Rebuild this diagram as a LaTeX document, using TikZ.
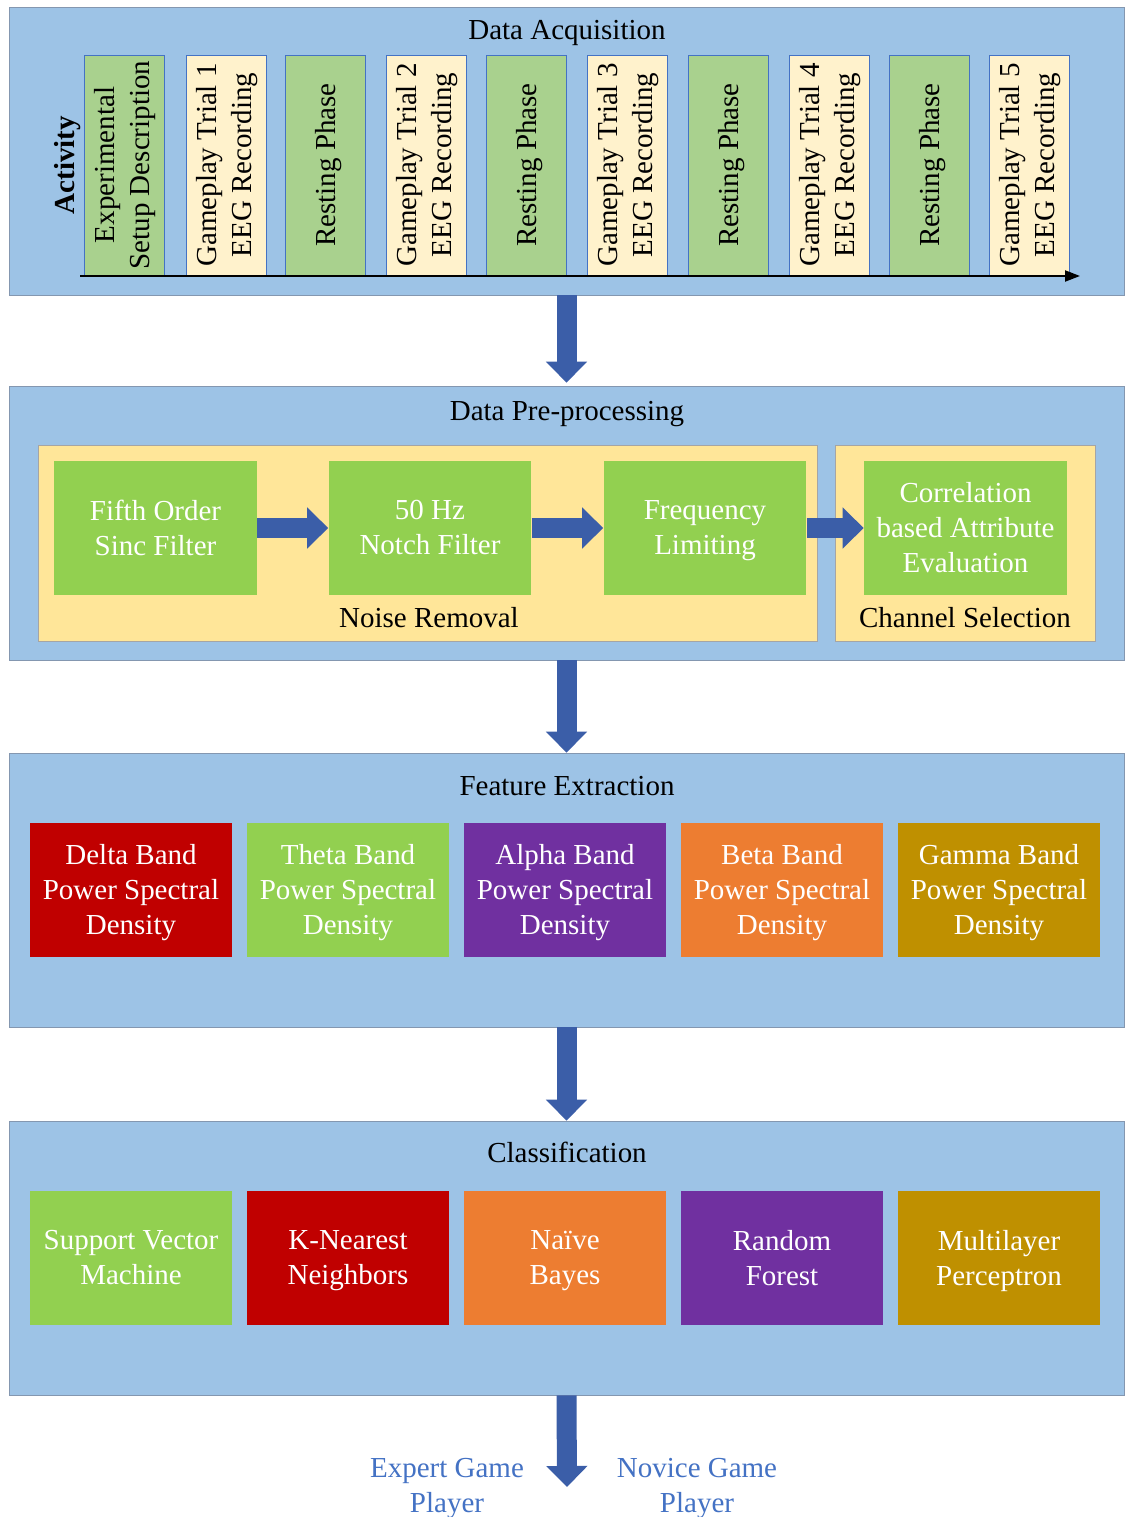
\documentclass[tikz,border=0pt]{standalone}
\usepackage{fontspec}
\setmainfont{Liberation Serif}
\usepackage{xcolor}
\usetikzlibrary{arrows.meta}
\usetikzlibrary{calc}

\definecolor{panelblue}{HTML}{9DC3E6}
\definecolor{panelline}{HTML}{8497B0}
\definecolor{actgreen}{HTML}{A9D18E}
\definecolor{actcream}{HTML}{FFF2CC}
\definecolor{actline}{HTML}{4472C4}
\definecolor{stagefill}{HTML}{FFE699}
\definecolor{stageline}{HTML}{A5A5A5}
\definecolor{boxgreen}{HTML}{92D050}
\definecolor{arrowblue}{HTML}{3B5EA8}
\definecolor{bandred}{HTML}{C00000}
\definecolor{bandpurple}{HTML}{7030A0}
\definecolor{bandorange}{HTML}{ED7D31}
\definecolor{bandgold}{HTML}{BF9000}
\definecolor{labelblue}{HTML}{4472C4}

\tikzset{
  txt/.style={font=\fontsize{16.5}{20}\selectfont,align=center,
    execute at begin node=\strut,execute at end node=\strut},
  panel/.style={draw=panelline,fill=panelblue,minimum width=22.3cm,minimum height=5.48cm},
  actbox/.style={txt,draw=actline,rotate=90,minimum width=4.4cm,minimum height=1.6cm,inner sep=0pt,
    text depth=2.6pt},
  stagebox/.style={draw=stageline,fill=stagefill,minimum height=3.92cm},
  procbox/.style={txt,fill=boxgreen,text=white,minimum width=4.06cm,minimum height=2.68cm,inner sep=0pt,
    text depth=0.5pt},
  bandbox/.style={txt,text=white,minimum width=4.04cm,minimum height=2.68cm,inner sep=0pt,
    text depth=0.5pt},
  blockarrow/.style={draw=arrowblue,line width=0.4cm,-{Triangle[width=0.8cm,length=0.42cm]}},
}

\begin{document}
\begin{tikzpicture}[x=0.02cm,y=-0.02cm]
\useasboundingbox (0,0) rectangle (1129,1517);

% Data Acquisition
\node[panel,minimum height=5.76cm] (acq) at (566.5,151) {};
\node[txt] (acqtitle) at (567,32) {Data Acquisition};
\node[txt,rotate=90,font=\fontsize{16.5}{20}\selectfont\bfseries] (activity) at (67,165) {Activity};
\node[actbox,fill=actgreen] (a1) at (124,165) {Experimental\\Setup Description};
\node[actbox,fill=actcream] (a2) at (226,165) {Gameplay Trial 1\\EEG Recording};
\node[actbox,fill=actgreen] (a3) at (325,165) {Resting Phase};
\node[actbox,fill=actcream] (a4) at (426,165) {Gameplay Trial 2\\EEG Recording};
\node[actbox,fill=actgreen] (a5) at (526,165) {Resting Phase};
\node[actbox,fill=actcream] (a6) at (627,165) {Gameplay Trial 3\\EEG Recording};
\node[actbox,fill=actgreen] (a7) at (728,165) {Resting Phase};
\node[actbox,fill=actcream] (a8) at (829,165) {Gameplay Trial 4\\EEG Recording};
\node[actbox,fill=actgreen] (a9) at (929,165) {Resting Phase};
\node[actbox,fill=actcream] (a10) at (1029,165) {Gameplay Trial 5\\EEG Recording};
\coordinate (axstart) at (80,276);
\coordinate (axend) at (1080,276);
\draw[line width=1.2pt,-{Triangle[length=0.3cm,width=0.22cm]}] (axstart) -- (axend);

% Data Pre-processing
\node[panel] (pre) at (566.5,523) {};
\node[txt] (pretitle) at (567,413) {Data Pre-processing};
\node[stagebox,minimum width=15.58cm] (noise) at (427.5,543) {};
\node[stagebox,minimum width=5.2cm] (chan) at (965,543) {};
\node[procbox] (sinc) at (155.5,528) {Fifth Order\\Sinc Filter};
\node[procbox] (notch) at (430,528) {50 Hz\\Notch Filter};
\node[procbox] (freq) at (705,528) {Frequency\\Limiting};
\node[procbox] (cfs) at (965.5,528) {Correlation\\based Attribute\\Evaluation};
\node[txt] (noiselabel) at (429,620) {Noise Removal};
\node[txt] (chanlabel) at (965,620) {Channel Selection};
\draw[blockarrow] (sinc.east) -- (notch.west);
\draw[blockarrow] (notch.east) -- (freq.west);
\draw[blockarrow] (freq.east) -- (cfs.west);

% Feature Extraction
\node[panel] (feat) at (566.5,890) {};
\node[txt] (feattitle) at (567,788) {Feature Extraction};
\node[bandbox,fill=bandred] (delta) at (131,890) {Delta Band\\Power Spectral\\Density};
\node[bandbox,fill=boxgreen] (theta) at (348,890) {Theta Band\\Power Spectral\\Density};
\node[bandbox,fill=bandpurple] (alpha) at (565,890) {Alpha Band\\Power Spectral\\Density};
\node[bandbox,fill=bandorange] (beta) at (782,890) {Beta Band\\Power Spectral\\Density};
\node[bandbox,fill=bandgold] (gamma) at (999,890) {Gamma Band\\Power Spectral\\Density};

% Classification
\node[panel] (cls) at (566.5,1258) {};
\node[txt] (clstitle) at (567,1155) {Classification};
\node[bandbox,fill=boxgreen] (svm) at (131,1258) {Support Vector\\Machine};
\node[bandbox,fill=bandred] (knn) at (348,1258) {K-Nearest\\Neighbors};
\node[bandbox,fill=bandorange] (nb) at (565,1258) {Naïve\\Bayes};
\node[bandbox,fill=bandpurple] (rf) at (782,1258) {Random\\Forest};
\node[bandbox,fill=bandgold] (mlp) at (999,1258) {Multilayer\\Perceptron};

% outcome
\node[txt,text=labelblue] (expert) at (447,1491) {Expert Game\\Player};
\node[txt,text=labelblue] (novice) at (697,1491) {Novice Game\\Player};
\coordinate (result) at (567,1487);

\draw[blockarrow,shorten >=0.06cm] (acq.south) -- (pre.north);
\draw[blockarrow] (pre.south) -- (feat.north);
\draw[blockarrow] (feat.south) -- (cls.north);
\draw[blockarrow] (cls.south) -- (result);
\end{tikzpicture}
\end{document}
